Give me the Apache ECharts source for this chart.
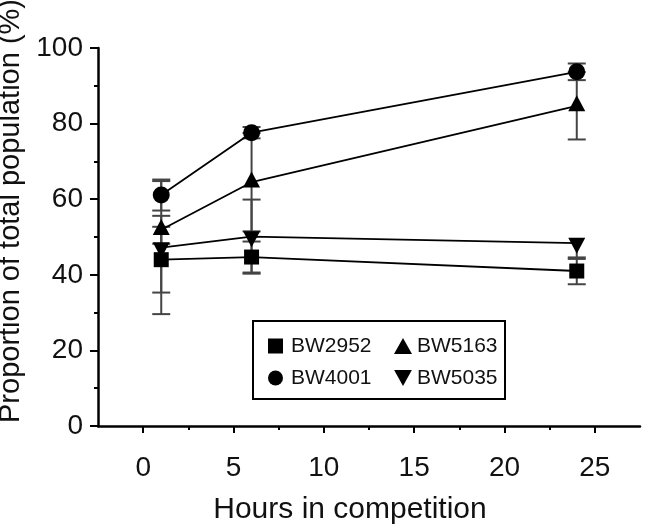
<!DOCTYPE html>
<html>
<head>
<meta charset="utf-8">
<script src="https://cdn.jsdelivr.net/npm/echarts@6/dist/echarts.min.js"></script>
<style>
html,body{margin:0;padding:0;background:#fff;}
#chart{width:650px;height:528px;}
</style>
</head>
<body>
<div id="chart"></div>
<script>
// ---- data ----
const hours = [1, 6, 24];
const bw2952 = [44.0, 44.7, 41.0];
const bw2952ErrUp = [8.7, 4.1, 3.2];
const bw2952ErrDown = [8.7, 4.1, 3.5];
const bw4001 = [61.1, 77.6, 93.7];
const bw4001ErrUp = [4.1, 1.5, 2.2];
const bw4001ErrDown = [4.1, 1.5, 2.2];
const bw5163 = [51.9, 64.5, 84.7];
const bw5163ErrUp = [3.7, 13, 8.9];
const bw5163ErrDown = [3.7, 13, 8.9];
const bw5035 = [47.2, 50.1, 48.4];
const bw5035ErrUp = [17.6, 9.8, 0];
const bw5035ErrDown = [17.6, 9.8, 3.8];
const xTicks = [0, 5, 10, 15, 20, 25];
const xMinorTicks = [2.5, 7.5, 12.5, 17.5, 22.5];
const yTicks = [0, 20, 40, 60, 80, 100];

const FONT = "'Liberation Sans', Arial, sans-serif";
const chart = echarts.init(document.getElementById('chart'), null, {renderer: 'canvas'});

function pts(vals) { return hours.map((h, i) => [h, vals[i]]); }
function errPts(vals, up, down) { return hours.map((h, i) => [h, vals[i], up[i], down[i]]); }

function errSeries(name, vals, up, down) {
  return {
    type: 'custom',
    name: name + ' err',
    xAxisIndex: 0, yAxisIndex: 0,
    z: 1,
    silent: true,
    data: errPts(vals, up, down),
    renderItem: function (params, api) {
      const x = api.value(0), y = api.value(1), eu = api.value(2), ed = api.value(3);
      const top = api.coord([x, y + eu]);
      const bot = api.coord([x, y - ed]);
      const hw = 9;
      const style = {stroke: '#444', lineWidth: 2};
      const children = [
        {type: 'line', shape: {x1: top[0], y1: top[1], x2: bot[0], y2: bot[1]}, style: style}
      ];
      if (eu > 0) children.push({type: 'line', shape: {x1: top[0] - hw, y1: top[1], x2: top[0] + hw, y2: top[1]}, style: style});
      if (ed > 0) children.push({type: 'line', shape: {x1: bot[0] - hw, y1: bot[1], x2: bot[0] + hw, y2: bot[1]}, style: style});
      return {type: 'group', children: children};
    }
  };
}

function lineSeries(name, vals, symbol, size, rotate, offset) {
  return {
    type: 'line',
    name: name,
    xAxisIndex: 0, yAxisIndex: 0,
    z: 3,
    data: pts(vals),
    symbol: symbol,
    symbolSize: size,
    symbolRotate: rotate || 0,
    symbolOffset: offset || [0, 0],
    showAllSymbol: true,
    lineStyle: {color: '#000', width: 1.8},
    itemStyle: {color: '#000', borderWidth: 0},
    emphasis: {disabled: true}
  };
}

const downTri = 'path://M0,0 L20,0 L10,18 Z';

const option = {
  animation: false,
  backgroundColor: '#fff',
  grid: {left: 98, right: 10, top: 48, bottom: 102, containLabel: false, outerBoundsMode: 'none'},
  xAxis: [
    {
      type: 'value', position: 'bottom', min: -2.5, max: 27.5,
      name: 'Hours in competition', nameLocation: 'middle', nameGap: 69,
      nameTextStyle: {fontSize: 30, fontFamily: FONT, color: '#111', lineHeight: 30, padding: [0, 38, 0, 0]},
      axisLine: {show: true, onZero: false, lineStyle: {color: '#000', width: 2.5}},
      axisTick: {show: true, length: 7, customValues: xTicks, lineStyle: {color: '#000', width: 2}},
      axisLabel: {customValues: xTicks, fontSize: 28, fontFamily: FONT, color: '#111', margin: 28},
      splitLine: {show: false}
    },
    {
      type: 'value', position: 'bottom', min: -2.5, max: 27.5,
      axisLine: {show: false, onZero: false},
      axisTick: {show: true, length: 4, customValues: xMinorTicks, lineStyle: {color: '#000', width: 2}},
      axisLabel: {show: false},
      splitLine: {show: false}
    }
  ],
  yAxis: {
    type: 'value', min: 0, max: 100, interval: 20,
    name: 'Proportion of total population (%)', nameLocation: 'middle', nameGap: 70,
    nameTextStyle: {fontSize: 29, fontFamily: FONT, color: '#111', lineHeight: 29, padding: [0, 0, 0, 52]},
    axisLine: {show: true, onZero: false, lineStyle: {color: '#000', width: 2.5}},
    axisTick: {show: true, length: 8, lineStyle: {color: '#000', width: 2}},
    minorTick: {show: true, splitNumber: 2, length: 4, lineStyle: {color: '#000', width: 2}},
    axisLabel: {customValues: yTicks, fontSize: 28, fontFamily: FONT, color: '#111', margin: 15},
    splitLine: {show: false}
  },
  legend: [
    {
      orient: 'vertical', left: 268, top: 335, padding: 0, itemGap: 10,
      itemWidth: 15, itemHeight: 15, selectedMode: false,
      textStyle: {fontSize: 21, fontFamily: FONT, color: '#111', lineHeight: 22, padding: [0, 0, 0, 3]},
      data: [{name: 'BW2952', icon: 'rect'}, {name: 'BW4001', icon: 'circle'}]
    },
    {
      orient: 'vertical', left: 394, top: 335, padding: 0, itemGap: 10,
      itemWidth: 18, itemHeight: 16, selectedMode: false,
      textStyle: {fontSize: 21, fontFamily: FONT, color: '#111', lineHeight: 22, padding: [0, 0, 0, 0]},
      data: [{name: 'BW5163', icon: 'triangle'}, {name: 'BW5035', icon: downTri}]
    }
  ],
  graphic: [
    {type: 'rect', shape: {x: 253, y: 321, width: 252, height: 78}, style: {fill: 'none', stroke: '#000', lineWidth: 2}, z: 10}
  ],
  series: [
    errSeries('BW2952', bw2952, bw2952ErrUp, bw2952ErrDown),
    errSeries('BW4001', bw4001, bw4001ErrUp, bw4001ErrDown),
    errSeries('BW5163', bw5163, bw5163ErrUp, bw5163ErrDown),
    errSeries('BW5035', bw5035, bw5035ErrUp, bw5035ErrDown),
    lineSeries('BW2952', bw2952, 'rect', 15),
    lineSeries('BW4001', bw4001, 'circle', 17),
    lineSeries('BW5163', bw5163, 'triangle', [17, 16], 0, [0, -2.7]),
    lineSeries('BW5035', bw5035, 'triangle', [17, 16], 180, [0, 2.7])
  ]
};
chart.setOption(option);
</script>
</body>
</html>
